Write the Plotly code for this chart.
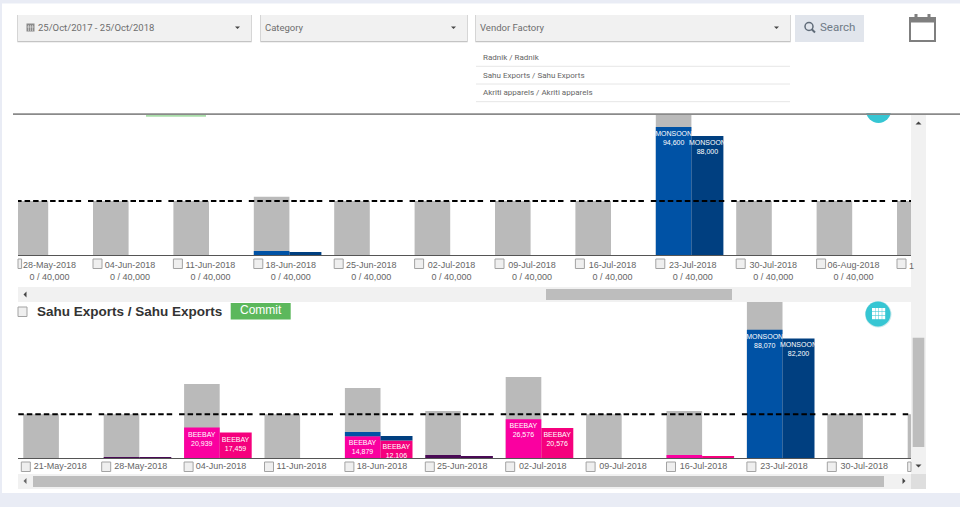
import plotly.graph_objects as go

W = 960
H = 507

top_weeks = ['28-May-2018', '04-Jun-2018', '11-Jun-2018', '18-Jun-2018', '25-Jun-2018', '02-Jul-2018',
             '09-Jul-2018', '16-Jul-2018', '23-Jul-2018', '30-Jul-2018', '06-Aug-2018']
top_used = ['0 / 40,000'] * 11
top_limit = 40000
top_grey = [40000, 40000, 40000, 43000, 40000, 40000, 40000, 40000, 110000, 40000, 40000, 40000]
top_monsoon_a = [0, 0, 0, 3000, 0, 0, 0, 0, 94600, 0, 0, 0]
top_monsoon_b = [0, 0, 0, 2200, 0, 0, 0, 0, 88000, 0, 0, 0]

bot_weeks = ['21-May-2018', '28-May-2018', '04-Jun-2018', '11-Jun-2018', '18-Jun-2018', '25-Jun-2018',
             '02-Jul-2018', '09-Jul-2018', '16-Jul-2018', '23-Jul-2018', '30-Jul-2018']
bot_limit = 30000
bot_grey = [30000, 30000, 50900, 30000, 48100, 32300, 55700, 30000, 32300, 120000, 30000, 30000]
bot_beebay_a = [0, 0, 20939, 0, 14879, 0, 26576, 0, 2000, 0, 0, 0]
bot_beebay_b = [0, 0, 17459, 0, 12106, 0, 20576, 0, 1400, 0, 0, 0]
bot_other_a = [0, 500, 0, 0, 0, 2000, 0, 0, 0, 0, 0, 0]
bot_other_b = [0, 500, 0, 0, 0, 1200, 0, 0, 0, 0, 0, 0]
bot_monsoon_a = [0, 0, 0, 0, 3000, 0, 0, 0, 0, 88070, 0, 0]
bot_monsoon_b = [0, 0, 0, 0, 3000, 0, 0, 0, 0, 82200, 0, 0]

vendors = ['Radnik / Radnik', 'Sahu Exports / Sahu Exports', 'Akriti apparels / Akriti apparels']

GREY = '#BABABA'
BLUE_A = '#0052A5'
BLUE_B = '#003F80'
PINK_A = '#FA00A0'
PINK_B = '#F5007D'
PURPLE = '#4A0A55'
TEAL = '#36C6D3'
PAGE = '#E9ECF5'

STEP = 80.4
GREY_W = 35.6 / STEP
NEXT_W = 32 / STEP
LEFT = 18
RIGHT = 911
TOP_X0 = 12.6
BOT_X0 = 23.3


def px(x):
    return x / W


def py(y):
    return 1 - y / H


shapes = []
notes = []


def box(x0, y0, x1, y1, fill, line=None, layer='above'):
    shapes.append(dict(type='rect', xref='paper', yref='paper', x0=px(x0), x1=px(x1), y0=py(y0), y1=py(y1),
                       fillcolor=fill, line=dict(color=line or fill, width=1 if line else 0), layer=layer))


def circle(x0, y0, x1, y1, fill=None, line=None, width=0):
    shapes.append(dict(type='circle', xref='paper', yref='paper', x0=px(x0), x1=px(x1), y0=py(y0), y1=py(y1),
                       fillcolor=fill or 'rgba(0,0,0,0)', line=dict(color=line or fill, width=width)))


def seg(x0, y0, x1, y1, color, width=1):
    shapes.append(dict(type='line', xref='paper', yref='paper', x0=px(x0), x1=px(x1), y0=py(y0), y1=py(y1),
                       line=dict(color=color, width=width)))


def tri(points, color):
    path = 'M ' + ' L '.join(f'{px(a):.5f} {py(b):.5f}' for a, b in points) + ' Z'
    shapes.append(dict(type='path', xref='paper', yref='paper', path=path, fillcolor=color,
                       line=dict(color=color, width=0)))


def label(x, y, text, size, color, font='Roboto', anchor='left', bold=False):
    notes.append(dict(xref='paper', yref='paper', x=px(x), y=py(y), text=f'<b>{text}</b>' if bold else text,
                      showarrow=False, xanchor=anchor, yanchor='middle', borderpad=0,
                      font=dict(family=font, size=size, color=color)))


def check(x0, y0):
    a = max(x0, LEFT)
    b = min(x0 + 9, RIGHT)
    if b > a:
        box(a, y0, b, y0 + 9.5, '#EFEFEF', '#A3A3A3')


def bars(fig, values, start, width, color, axis, base=None, brand=None):
    texts = [f'{brand}<br>{v:,}' if brand and v >= 10000 else '' for v in values]
    fig.add_trace(go.Bar(x=list(range(len(values))), y=values, base=base, offset=start, width=width,
                         marker=dict(color=color, line=dict(width=0)), text=texts, textposition='inside',
                         insidetextanchor='end', textangle=0, constraintext='none',
                         textfont=dict(family='Liberation Sans', size=7, color='white'),
                         xaxis='x' + axis, yaxis='y' + axis, showlegend=False, hoverinfo='skip'))


def limit_line(fig, n, limit, axis):
    xs = []
    ys = []
    for i in range(n):
        xs += [i - 5 / STEP, i + 68.5 / STEP, None]
        ys += [limit, limit, None]
    fig.add_trace(go.Scatter(x=xs, y=ys, mode='lines', line=dict(color='black', width=2, dash='5.5px,3px'),
                             xaxis='x' + axis, yaxis='y' + axis, showlegend=False, hoverinfo='skip'))


fig = go.Figure()

bars(fig, top_grey, 0, GREY_W, GREY, '')
bars(fig, top_monsoon_a, 0, GREY_W, BLUE_A, '', brand='MONSOON')
bars(fig, top_monsoon_b, GREY_W, NEXT_W, BLUE_B, '', brand='MONSOON')
limit_line(fig, len(top_grey), top_limit, '')

bars(fig, bot_grey, 0, GREY_W, GREY, '2')
bars(fig, bot_other_a, 0, GREY_W, PURPLE, '2')
bars(fig, bot_beebay_a, 0, GREY_W, PINK_A, '2', brand='BEEBAY')
bars(fig, bot_monsoon_a, 0, GREY_W, BLUE_A, '2', base=bot_beebay_a, brand='MONSOON')
bars(fig, bot_other_b, GREY_W, NEXT_W, PURPLE, '2')
bars(fig, bot_beebay_b, GREY_W, NEXT_W, PINK_B, '2', brand='BEEBAY')
bars(fig, bot_monsoon_b, GREY_W, NEXT_W, BLUE_B, '2', base=bot_beebay_b, brand='MONSOON')
limit_line(fig, len(bot_grey), bot_limit, '2')

# page and panel behind the plots
box(2, 3.5, W, 493, 'white', layer='below')

# filter bar
for x0, x1 in [(18, 251), (261, 467), (476, 790)]:
    box(x0 - 0.7, 15, x1 + 0.7, 42.3, '#C4C4C4')
    box(x0, 15, x1, 41, '#F1F1F1')
    tri([(x1 - 16, 26.5), (x1 - 11, 26.5), (x1 - 13.5, 29)], '#444444')
label(36.5, 27, '25/Oct/2017 - 25/Oct/2018', 9.5, '#6E6E6E')
label(263.5, 27, 'Category', 9.5, '#6E6E6E')
label(478.5, 27, 'Vendor Factory', 9.5, '#6E6E6E')

# little calendar in the date box
box(26.5, 23.5, 34.5, 31.5, '#8A8A8A')
for cx in (28.5, 30.5, 32.5):
    seg(cx, 25, cx, 31, '#F2F2F2', 0.5)
seg(27, 27, 34, 27, '#F2F2F2', 0.5)

box(795, 15, 864, 42, '#E1E5EC')
circle(805, 22.5, 813, 30.5, None, '#5F6B78', 1.5)
seg(811.5, 29, 815, 32.5, '#5F6B78', 2)
label(818.5, 27, 'Search', 11.5, '#6E7A86')

# big calendar icon
shapes.append(dict(type='rect', xref='paper', yref='paper', x0=px(910), x1=px(935), y0=py(18), y1=py(41),
                   fillcolor='white', line=dict(color='#7F7F7F', width=2)))
box(910, 18, 935, 22.5, '#7F7F7F')
box(914.5, 14, 917.5, 20, '#7F7F7F')
box(927.5, 14, 930.5, 20, '#7F7F7F')

# vendor list under the filter
for i, name in enumerate(vendors):
    label(482, 57.5 + i * 17.7, name, 8, '#666666')
    seg(476, 66.3 + i * 17.7, 790, 66.3 + i * 17.7, '#E6E6E6', 1)

# first panel top, the teal button is cut by the rule
circle(866, 98, 891, 123, TEAL)
box(860, 94, 900, 113, 'white')
box(146, 115, 206, 116.8, '#A9DEA9')
box(13, 113.2, W, 115, '#8A8A8A')

# scrollbars
box(911, 115, 926, 489, '#F1F1F1')
box(18, 287, 911, 302, '#F1F1F1')
box(546, 289, 732, 300, '#BDBDBD')
tri([(915.5, 124.5), (921.5, 124.5), (918.5, 121.5)], '#444444')
tri([(26.5, 291.5), (26.5, 297.5), (23.5, 294.5)], '#444444')

box(912.7, 337.7, 924.3, 447, '#BDBDBD')
tri([(915.5, 464.5), (921.5, 464.5), (918.5, 467.5)], '#444444')
box(18, 474, 911, 489, '#F1F1F1')
box(911, 474, 926, 489, '#DEDEDE')
box(33, 476, 884, 487, '#BDBDBD')
tri([(26.5, 478), (26.5, 484), (23.5, 481)], '#666666')
tri([(902.5, 478), (902.5, 484), (905.5, 481)], '#444444')

# second panel header
check(18, 307)
label(35.5, 311, 'Sahu Exports / Sahu Exports', 13.5, '#333333', font='Liberation Sans', bold=True)
box(230.7, 303, 290.7, 319.5, '#5CB85C')
label(260.7, 310, 'Commit', 12, 'white', font='Liberation Sans', anchor='center')
circle(865, 301, 891.5, 327.5, '#C9E9EC')
circle(865.5, 301.5, 890.5, 326.5, TEAL)
for row in range(3):
    for col in range(4):
        box(872 + col * 3.4, 308 + row * 3.9, 875 + col * 3.4, 311.4 + row * 3.9, 'white')

# week checkboxes
for i in range(len(top_grey)):
    check(TOP_X0 + i * STEP, 259)
for i in range(len(bot_grey)):
    check(BOT_X0 + i * STEP - (2 if i < 2 else 0), 462)
label(908, 266, '1', 9, '#666666', font='Liberation Sans')

fig.update_layout(
    width=W, height=H, margin=dict(l=0, r=0, t=0, b=0, pad=0), paper_bgcolor=PAGE, plot_bgcolor='rgba(0,0,0,0)',
    barmode='overlay', shapes=shapes, annotations=notes,
    xaxis=dict(domain=[px(LEFT), px(RIGHT)], anchor='y',
               range=[(LEFT - TOP_X0) / STEP, (RIGHT - TOP_X0) / STEP],
               tickmode='array', tickvals=[i + 37 / STEP for i in range(len(top_weeks))],
               ticktext=[f'{a}<br>{b}' for a, b in zip(top_weeks, top_used)],
               showgrid=False, zeroline=False, ticks='', showline=True, linecolor='#555555', linewidth=1.2,
               ticklabelstandoff=1, tickfont=dict(family='Liberation Sans', size=9, color='#666666')),
    yaxis=dict(domain=[py(255), py(115)], anchor='x', range=[0, 103500], visible=False),
    xaxis2=dict(domain=[px(LEFT), px(RIGHT)], anchor='y2',
                range=[(LEFT - BOT_X0) / STEP, (RIGHT - BOT_X0) / STEP],
                tickmode='array', tickvals=[i + 37 / STEP for i in range(len(bot_weeks))],
                ticktext=bot_weeks,
                showgrid=False, zeroline=False, ticks='', showline=True, linecolor='#555555', linewidth=1.2,
                ticklabelstandoff=-1, tickfont=dict(family='Liberation Sans', size=9, color='#666666')),
    yaxis2=dict(domain=[py(458), py(302)], anchor='x2', range=[0, 107200], visible=False),
)

fig.write_html('out.html', config=dict(displayModeBar=False), post_script="document.body.style.margin='0';")
